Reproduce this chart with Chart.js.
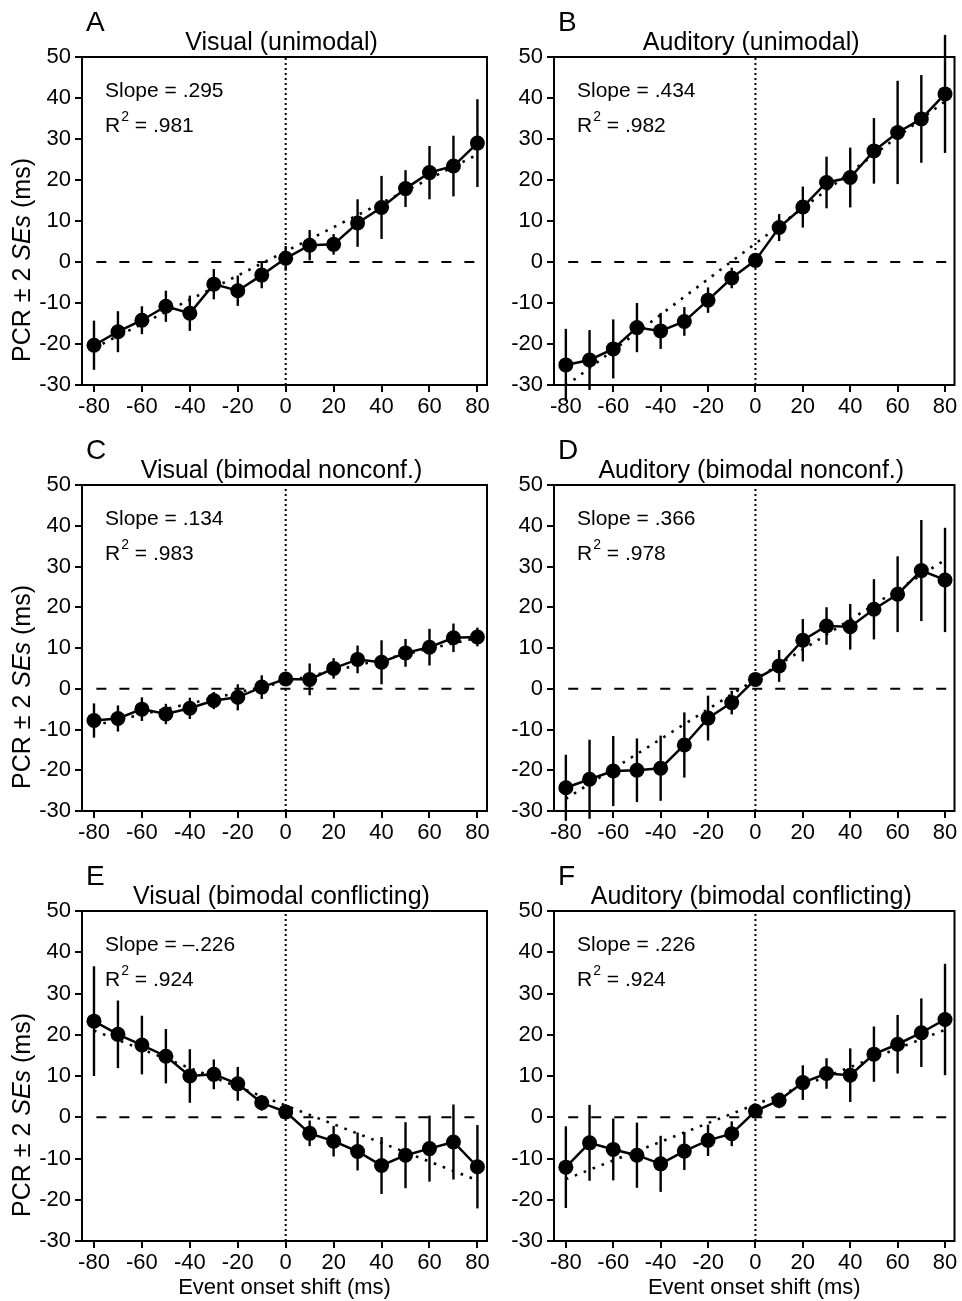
<!DOCTYPE html>
<html>
<head>
<meta charset="utf-8">
<script src="https://cdn.jsdelivr.net/npm/chart.js@4.4.0/dist/chart.umd.min.js"></script>
<style>
  body { margin: 0; background: #fff; width: 962px; height: 1301px; position: relative; overflow: hidden; }
  .panel { position: absolute; }
</style>
</head>
<body>
<div class="panel" style="left:0;top:0;width:495px;height:430px"><canvas id="panel-a"></canvas></div>
<div class="panel" style="left:480px;top:0;width:482px;height:430px"><canvas id="panel-b"></canvas></div>
<div class="panel" style="left:0;top:430px;width:495px;height:430px"><canvas id="panel-c"></canvas></div>
<div class="panel" style="left:480px;top:430px;width:482px;height:430px"><canvas id="panel-d"></canvas></div>
<div class="panel" style="left:0;top:860px;width:495px;height:441px"><canvas id="panel-e"></canvas></div>
<div class="panel" style="left:480px;top:860px;width:482px;height:441px"><canvas id="panel-f"></canvas></div>
<script>
// ! shared axes
const shifts = [-80, -70, -60, -50, -40, -30, -20, -10, 0, 10, 20, 30, 40, 50, 60, 70, 80];
const xTicks = [-80, -60, -40, -20, 0, 20, 40, 60, 80];
const yTicks = [-30, -20, -10, 0, 10, 20, 30, 40, 50];
const fitX = [-80, 80];

// ! A  visual unimodal
const meanA = [-20.3, -17, -14.2, -10.8, -12.5, -5.4, -7, -3.2, 0.9, 4.1, 4.3, 9.5, 13.3, 17.9, 21.8, 23.4, 29];
const errA = [6, 5, 3.4, 3.8, 4.3, 3.7, 3.7, 3.2, 3, 3.7, 2.5, 5.8, 7.7, 4.5, 6.5, 7.4, 10.7];
const fitA = [-21, 26.2];

// ! B  auditory unimodal
const meanB = [-25.1, -23.9, -21.2, -16, -16.8, -14.5, -9.3, -3.9, 0.4, 8.4, 13.4, 19.4, 20.6, 27.1, 31.6, 34.9, 41];
const errB = [8.8, 7.3, 7.2, 6, 4.4, 3.5, 3.1, 2.5, 1.8, 3.3, 5, 6.3, 7.3, 8, 12.6, 10.7, 14.4];
const fitB = [-30.2, 39.2];

// ! C  visual bimodal nonconf.
const meanC = [-7.8, -7.3, -5, -6.2, -4.8, -2.9, -2.1, 0.4, 2.4, 2.3, 5, 7.2, 6.5, 8.8, 10.2, 12.5, 12.7];
const errC = [4.2, 3.2, 2.9, 2.5, 2.6, 2.1, 3.2, 2.9, 1.5, 3.9, 2.5, 3.4, 5.4, 3.4, 4.5, 3.5, 2.3];
const fitC = [-9, 12.5];

// ! D  auditory bimodal nonconf.
const meanD = [-24.3, -22.2, -20.2, -20, -19.5, -13.8, -7.2, -3.4, 2.3, 5.6, 11.9, 15.4, 15.2, 19.5, 23.2, 29, 26.7];
const errD = [8.1, 9.7, 8.6, 7.8, 8, 8, 5.5, 2.9, 1.5, 3.9, 5.2, 4.6, 5.6, 7.4, 9.3, 12.4, 12.8];
const fitD = [-27, 31.6];

// ! E  visual bimodal conflicting
const meanE = [23.3, 20.1, 17.5, 14.8, 10, 10.4, 8.1, 3.5, 1.3, -3.9, -5.8, -8.3, -11.7, -9.2, -7.6, -6, -12];
const errE = [13.3, 8.2, 7.1, 6.6, 6.5, 3.6, 4.1, 1.9, 1.5, 3.1, 3.7, 4.6, 6.9, 8, 8, 9.1, 10.1];
const fitE = [21, -15.3];

// ! F  auditory bimodal conflicting
const meanF = [-12.1, -6.2, -7.8, -9.2, -11.3, -8.2, -5.6, -4, 1.5, 4.1, 8.4, 10.6, 10.2, 15.3, 17.7, 20.5, 23.7];
const errF = [9.9, 9.2, 7.5, 7.9, 6.8, 4.6, 3.8, 3, 1.5, 1.9, 4.2, 3.7, 6.5, 6.7, 7.1, 8.3, 13.5];
const fitF = [-15, 21.2];

const letters = ["A", "B", "C", "D", "E", "F"];
const titles = ["Visual (unimodal)", "Auditory (unimodal)", "Visual (bimodal nonconf.)",
  "Auditory (bimodal nonconf.)", "Visual (bimodal conflicting)", "Auditory (bimodal conflicting)"];
const slopes = [".295", ".434", ".134", ".366", "\u2013.226", ".226"];
const r2s = [".981", ".982", ".983", ".978", ".924", ".924"];
const yLabelParts = ["PCR \u00b1 2 ", "SEs", " (ms)"];
const xLabel = "Event onset shift (ms)";

const FONT = '"Liberation Sans", Arial, Helvetica, sans-serif';

function pts(xs, ys) {
  return ys.map((v, i) => ({ x: xs[i], y: v }));
}

// draws error bars, frame and all the panel texts
function panelPlugin(p) {
  return {
    id: 'panelDeco',
    beforeDatasetsDraw(chart) {
      const ctx = chart.ctx, xs = chart.scales.x, ys = chart.scales.y;
      ctx.save();
      ctx.strokeStyle = '#000';
      ctx.lineWidth = 2.4;
      p.mean.forEach((m, i) => {
        const px = xs.getPixelForValue(shifts[i]);
        ctx.beginPath();
        ctx.moveTo(px, ys.getPixelForValue(m + p.err[i]));
        ctx.lineTo(px, ys.getPixelForValue(m - p.err[i]));
        ctx.stroke();
      });
      ctx.restore();
    },
    afterDraw(chart) {
      const ctx = chart.ctx, a = chart.chartArea;
      ctx.save();
      ctx.strokeStyle = '#000';
      ctx.lineWidth = 2;
      ctx.strokeRect(a.left, a.top, a.right - a.left, a.bottom - a.top);

      ctx.fillStyle = '#000';
      ctx.textBaseline = 'alphabetic';
      // letter
      ctx.font = '28px ' + FONT;
      ctx.textAlign = 'left';
      ctx.fillText(p.letter, a.left + 4, a.top - 26);
      // title
      ctx.font = '25px ' + FONT;
      ctx.textAlign = 'center';
      ctx.fillText(p.title, (a.left + a.right) / 2 - 3, a.top - 7);
      // slope + r2
      ctx.textAlign = 'left';
      ctx.font = '21px ' + FONT;
      let tx = a.left + 23;
      ctx.fillText('Slope = ' + p.slope, tx, a.top + 40);
      ctx.fillText('R', tx, a.top + 75);
      tx += ctx.measureText('R').width;
      ctx.font = '14px ' + FONT;
      ctx.fillText('2', tx + 1, a.top + 64);
      tx += ctx.measureText('2').width + 1;
      ctx.font = '21px ' + FONT;
      ctx.fillText(' = ' + p.r2, tx, a.top + 75);
      // y label with italic SEs
      if (p.yLabel) {
        ctx.translate(30, (a.top + a.bottom) / 2 + 39);
        ctx.rotate(-Math.PI / 2);
        const fonts = ['25px ' + FONT, 'italic 25px ' + FONT, '25px ' + FONT];
        let total = 0;
        yLabelParts.forEach((s, i) => { ctx.font = fonts[i]; total += ctx.measureText(s).width; });
        let cx = -total / 2;
        yLabelParts.forEach((s, i) => {
          ctx.font = fonts[i];
          ctx.fillText(s, cx, 0);
          cx += ctx.measureText(s).width;
        });
      }
      ctx.restore();
    }
  };
}

function makePanel(canvasId, p) {
  new Chart(canvasId, {
    type: 'scatter',
    data: {
      datasets: [
        {
          data: pts([-79, 82], [0, 0]),
          showLine: true, borderColor: '#000', borderWidth: 2, borderDash: [10, 13],
          pointRadius: 0
        },
        {
          data: pts([0, 0], [-30, 50]),
          showLine: true, borderColor: '#000', borderWidth: 2, borderDash: [2, 3],
          pointRadius: 0
        },
        {
          data: pts(fitX, p.fit),
          showLine: true, borderColor: '#000', borderWidth: 2.6, borderDash: [2.6, 7],
          pointRadius: 0
        },
        {
          data: pts(shifts, p.mean),
          showLine: true, borderColor: '#000', borderWidth: 2.5,
          pointRadius: 7.5, pointBackgroundColor: '#000', pointBorderWidth: 0
        }
      ]
    },
    options: {
      responsive: true,
      maintainAspectRatio: false,
      animation: false,
      layout: { padding: { top: p.top, right: p.right, left: 0, bottom: 0 } },
      plugins: { legend: { display: false }, tooltip: { enabled: false } },
      scales: {
        x: {
          type: 'linear', min: -85, max: 84,
          afterBuildTicks: (s) => { s.ticks = xTicks.map(v => ({ value: v })); },
          afterFit: (s) => { s.height = p.xh; },
          border: { display: false },
          grid: { drawOnChartArea: false, drawTicks: true, tickLength: 7, color: '#000', lineWidth: 2 },
          ticks: { color: '#000', font: { family: FONT, size: 22 }, padding: 2, autoSkip: false, maxRotation: 0 },
          title: { display: p.xLabel, text: xLabel, color: '#000', font: { family: FONT, size: 22 }, padding: 0 }
        },
        y: {
          type: 'linear', min: -30, max: 50,
          afterBuildTicks: (s) => { s.ticks = yTicks.map(v => ({ value: v })); },
          afterFit: (s) => { s.width = p.yw; },
          border: { display: false },
          grid: { drawOnChartArea: false, drawTicks: true, tickLength: 7, color: '#000', lineWidth: 2 },
          ticks: { color: '#000', font: { family: FONT, size: 22 }, padding: 4 }
        }
      }
    },
    plugins: [panelPlugin(p)]
  });
}

const means = [meanA, meanB, meanC, meanD, meanE, meanF];
const errs = [errA, errB, errC, errD, errE, errF];
const fits = [fitA, fitB, fitC, fitD, fitE, fitF];
const ids = ['panel-a', 'panel-b', 'panel-c', 'panel-d', 'panel-e', 'panel-f'];
// ! row tops / axis heights (chart area placement)
const rowTop = [57, 55, 51];
const rowXh = [45, 49, 60];

ids.forEach((id, i) => {
  const row = Math.floor(i / 2), left = i % 2 == 0;
  makePanel(id, {
    mean: means[i], err: errs[i], fit: fits[i],
    letter: letters[i], title: titles[i], slope: slopes[i], r2: r2s[i],
    yLabel: left, xLabel: row == 2,
    top: rowTop[row], xh: rowXh[row],
    yw: left ? 82 : 74, right: left ? 8 : 7
  });
});
</script>
</body>
</html>
